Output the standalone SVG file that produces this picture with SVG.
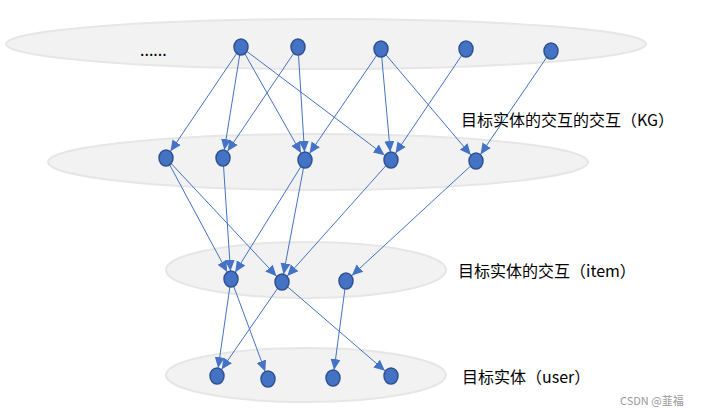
<svg xmlns="http://www.w3.org/2000/svg" width="704" height="416" viewBox="0 0 704 416">
<style>
.layer{fill:#f2f2f2;stroke:#e6e6e6;stroke-width:2}
.n{fill:#4472c4;stroke:#2f528f;stroke-width:1.5}
.e line{stroke:#4472c4;stroke-width:1}
.t{font-family:"Noto Sans CJK SC","Noto Sans",sans-serif;font-size:16px;fill:#000}
</style>
<defs><marker id="a" markerUnits="userSpaceOnUse" markerWidth="30" markerHeight="12" viewBox="0 0 30 12" refX="19" refY="6" orient="auto"><path d="M0,1 L11,6 L0,11 z" fill="#4472c4"/></marker></defs>
<rect width="704" height="416" fill="#fff"/>
<ellipse class="layer" cx="326" cy="44" rx="320" ry="25"/>
<ellipse class="layer" cx="318" cy="162" rx="270" ry="28"/>
<ellipse class="layer" cx="306" cy="270" rx="140" ry="28"/>
<ellipse class="layer" cx="306" cy="375" rx="140" ry="27"/>
<g class="e" marker-end="url(#a)">
<line x1="241" y1="47" x2="166" y2="158"/>
<line x1="241" y1="47" x2="223" y2="158"/>
<line x1="241" y1="47" x2="305" y2="160"/>
<line x1="241" y1="47" x2="391" y2="160"/>
<line x1="298" y1="47" x2="223" y2="158"/>
<line x1="298" y1="47" x2="305" y2="160"/>
<line x1="381" y1="49" x2="305" y2="160"/>
<line x1="381" y1="49" x2="391" y2="160"/>
<line x1="381" y1="49" x2="476" y2="161"/>
<line x1="466" y1="49" x2="391" y2="160"/>
<line x1="551" y1="51" x2="476" y2="161"/>
<line x1="166" y1="158" x2="231" y2="279"/>
<line x1="166" y1="158" x2="282" y2="282"/>
<line x1="223" y1="158" x2="231" y2="279"/>
<line x1="305" y1="160" x2="231" y2="279"/>
<line x1="305" y1="160" x2="282" y2="282"/>
<line x1="391" y1="160" x2="282" y2="282"/>
<line x1="476" y1="161" x2="346" y2="281"/>
<line x1="231" y1="279" x2="217" y2="376"/>
<line x1="231" y1="279" x2="268" y2="379"/>
<line x1="282" y1="282" x2="217" y2="376"/>
<line x1="282" y1="282" x2="391" y2="376"/>
<line x1="346" y1="281" x2="333" y2="378"/>
</g>
<g id="n1"><ellipse class="n" cx="241" cy="47" rx="7" ry="8"/></g>
<g id="n2"><ellipse class="n" cx="298" cy="47" rx="7" ry="8"/></g>
<g id="n3"><ellipse class="n" cx="381" cy="49" rx="7" ry="8"/></g>
<g id="n4"><ellipse class="n" cx="466" cy="49" rx="7" ry="8"/></g>
<g id="n5"><ellipse class="n" cx="551" cy="51" rx="7" ry="8"/></g>
<g id="m1"><ellipse class="n" cx="166" cy="158" rx="7" ry="8"/></g>
<g id="m2"><ellipse class="n" cx="223" cy="158" rx="7" ry="8"/></g>
<g id="m3"><ellipse class="n" cx="305" cy="160" rx="7" ry="8"/></g>
<g id="m4"><ellipse class="n" cx="391" cy="160" rx="7" ry="8"/></g>
<g id="m5"><ellipse class="n" cx="476" cy="161" rx="7" ry="8"/></g>
<g id="i1"><ellipse class="n" cx="231" cy="279" rx="7" ry="8"/></g>
<g id="i2"><ellipse class="n" cx="282" cy="282" rx="7" ry="8"/></g>
<g id="i3"><ellipse class="n" cx="346" cy="281" rx="7" ry="8"/></g>
<g id="u1"><ellipse class="n" cx="217" cy="376" rx="7" ry="8"/></g>
<g id="u2"><ellipse class="n" cx="268" cy="379" rx="7" ry="8"/></g>
<g id="u3"><ellipse class="n" cx="333" cy="378" rx="7" ry="8"/></g>
<g id="u4"><ellipse class="n" cx="391" cy="376" rx="7" ry="8"/></g>
<text class="t" x="140" y="56" font-family="Liberation Sans,sans-serif">......</text>
<text class="t" x="461" y="126">目标实体的交互的交互（KG）</text>
<text class="t" x="458" y="277">目标实体的交互（item）</text>
<text class="t" x="462" y="383">目标实体（user）</text>
<text x="620" y="405" font-family="Noto Sans CJK SC,sans-serif" font-size="11" fill="#999">CSDN @韮福</text>
</svg>
